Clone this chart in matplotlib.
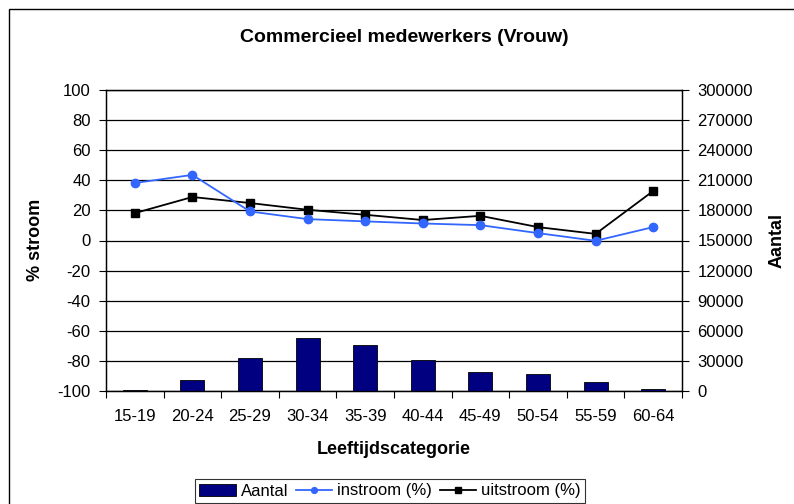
import matplotlib
matplotlib.use("Agg")
import matplotlib.pyplot as plt
from matplotlib.patches import Rectangle
import numpy as np

plt.rcParams['font.family'] = ['Liberation Sans', 'DejaVu Sans']
plt.rcParams['axes.unicode_minus'] = False

categories = ["15-19", "20-24", "25-29", "30-34", "35-39", "40-44", "45-49", "50-54", "55-59", "60-64"]
aantal = [1200, 11300, 33000, 53000, 45500, 31000, 19000, 17000, 9000, 2300]
instroom = [38.2, 43.6, 19.3, 14.2, 12.7, 11.3, 10.2, 4.9, -0.2, 8.9]
uitstroom = [18.2, 28.9, 24.9, 20.4, 17.1, 13.6, 16.4, 8.9, 4.4, 32.9]
left_ticks = list(range(-100, 101, 20))
right_ticks = list(range(0, 300001, 30000))

W, H = 794, 504
fig = plt.figure(figsize=(W / 100, H / 100), dpi=100)
fig.patches.append(Rectangle((9 / W, -0.05), 1.2, 1 - 9 / H + 0.05, transform=fig.transFigure,
                             fill=False, edgecolor='black', linewidth=1.0))

L, R, T, B = 106, 682, 90, 391
ax2 = fig.add_axes([L / W, 1 - B / H, (R - L) / W, (B - T) / H])
ax1 = ax2.twinx()
ax2.yaxis.tick_right()
ax2.yaxis.set_label_position('right')
ax1.yaxis.tick_left()
ax1.yaxis.set_label_position('left')
ax1.set_zorder(ax2.get_zorder() + 1)
ax1.patch.set_visible(False)

x = np.arange(len(categories))
ax2.bar(x, aantal, width=0.42, color='#000080', edgecolor='black', linewidth=0.6, zorder=3,
        label='Aantal')
ax2.set_ylim(0, 300000)
ax2.set_yticks(right_ticks)
ax2.set_yticklabels([str(t) for t in right_ticks])
ax2.grid(axis='y', color='black', linewidth=0.9, zorder=0)
ax2.set_axisbelow(True)
ax2.set_xlim(-0.5, len(categories) - 0.5)
ax2.set_xticks(x)
ax2.set_xticklabels(categories)
ax2.set_xticks(np.arange(-0.5, len(categories), 1.0), minor=True)
ax2.tick_params(axis='x', which='major', length=0, pad=13, labelsize=12)
ax2.tick_params(axis='x', which='minor', length=5, direction='out', width=0.8)
ax2.tick_params(axis='y', length=5, direction='out', width=0.8, labelsize=12, pad=6)

l1, = ax1.plot(x, instroom, color='#3366FF', marker='o', markersize=6, linewidth=1.3,
               label='instroom (%)', zorder=5)
l2, = ax1.plot(x, uitstroom, color='black', marker='s', markersize=6, linewidth=1.3,
               label='uitstroom (%)', zorder=4)
ax1.set_ylim(-100, 100)
ax1.set_yticks(left_ticks)
ax1.set_yticklabels([str(t) for t in left_ticks])
ax1.tick_params(axis='y', length=5, direction='out', width=0.8, labelsize=12, pad=6)

for a in (ax1, ax2):
    for s in a.spines.values():
        s.set_color('black')
        s.set_linewidth(0.9)

fig.text(404 / W, 1 - 38 / H, 'Commercieel medewerkers (Vrouw)', ha='center', va='center',
         fontsize=14, fontweight='bold')
fig.text((L + R) / 2 / W, 1 - 450 / H, 'Leeftijdscategorie', ha='center', va='center',
         fontsize=13, fontweight='bold')
fig.text(35 / W, 1 - 240 / H, '% stroom', ha='center', va='center', rotation=90,
         fontsize=13, fontweight='bold')
fig.text(777 / W, 1 - 240 / H, 'Aantal', ha='center', va='center', rotation=90,
         fontsize=13, fontweight='bold')

handles = [ax2.patches[0], l1, l2]
leg = fig.legend(handles, ['Aantal', 'instroom (%)', 'uitstroom (%)'], loc='center',
                 bbox_to_anchor=(390 / W, 1 - 491 / H), ncol=3, fontsize=12, frameon=True,
                 fancybox=False, edgecolor='black', handlelength=2.2, handletextpad=0.3,
                 columnspacing=0.45, borderpad=0.25, markerscale=0.7)
leg.get_frame().set_linewidth(0.8)

fig.savefig('out.png', dpi=100)
